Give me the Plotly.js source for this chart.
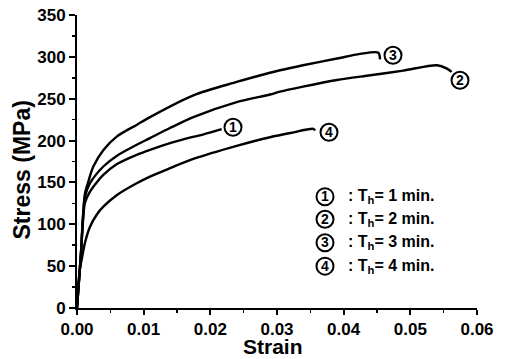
<!DOCTYPE html>
<html>
<head>
<meta charset="utf-8">
<script src="https://cdn.plot.ly/plotly-3.0.1.min.js"></script>
<style>html,body{margin:0;padding:0;background:#fff;}#chart{width:507px;height:359px;}</style>
</head>
<body>
<div id="chart"></div>
<script>
// Curve 1 : Th = 1 min
const strain1 = [0, 0.0003, 0.0006, 0.0009, 0.0012, 0.00195, 0.00295, 0.00395, 0.006, 0.00895, 0.01095, 0.01395, 0.01595, 0.019, 0.0217];
const stress1 = [0, 33, 66, 104, 126, 139, 150, 159, 172, 183, 189, 197, 201.5, 207.5, 213.6];
// Curve 2 : Th = 2 min
const strain2 = [0, 0.0003, 0.0006, 0.0009, 0.0012, 0.00195, 0.00395, 0.006, 0.00895, 0.01095, 0.01395, 0.01745, 0.02395, 0.02895, 0.03045, 0.0339, 0.039, 0.044, 0.04895, 0.054, 0.0555, 0.0562];
const stress2 = [0, 33, 66, 108, 133, 149, 169, 182, 195, 203, 215, 228, 246, 255, 258.5, 264.5, 272.4, 278, 283.6, 290, 286, 282];
// Curve 3 : Th = 3 min
const strain3 = [0, 0.0003, 0.0006, 0.0009, 0.0012, 0.0017, 0.00245, 0.004, 0.006, 0.009, 0.01095, 0.01745, 0.02395, 0.02895, 0.03045, 0.0339, 0.039, 0.04245, 0.0452, 0.04545];
const stress3 = [0, 33, 66, 110, 137, 151, 169, 189, 205, 219, 228, 254, 270, 281, 284, 290, 298, 303.5, 305, 297];
// Curve 4 : Th = 4 min
const strain4 = [0, 0.0002, 0.0004, 0.0007, 0.0012, 0.00195, 0.003, 0.00395, 0.006, 0.00895, 0.01095, 0.01395, 0.01745, 0.02395, 0.02895, 0.032, 0.03545, 0.0357];
const stress4 = [0, 26, 45, 58, 78, 97, 112, 121, 135, 149, 157, 167, 178, 193.7, 204, 209, 214, 212];

const curveNumbers = ['1', '2', '3', '4'];
const legendTexts = [': T<sub>h</sub>= 1 min.', ': T<sub>h</sub>= 2 min.', ': T<sub>h</sub>= 3 min.', ': T<sub>h</sub>= 4 min.'];
const xTicks = [0, 0.01, 0.02, 0.03, 0.04, 0.05, 0.06];
const yTicks = [0, 50, 100, 150, 200, 250, 300, 350];

const series = [[strain1, stress1], [strain2, stress2], [strain3, stress3], [strain4, stress4]];
const traces = series.map(s => ({
  x: s[0], y: s[1], type: 'scatter', mode: 'lines',
  line: {color: '#000', width: 2.4, shape: 'spline', smoothing: 0.8},
  showlegend: false, hoverinfo: 'skip'
}));

const FONT = 'Liberation Sans, Arial, sans-serif';
const DIGITFONT = {family: FONT, size: 14, color: '#000', weight: 'bold'};
const annotations = [];
const shapes = [];
function circledNumber(x, y, label) {
  shapes.push({type: 'circle', xref: 'x', yref: 'y', xsizemode: 'pixel', ysizemode: 'pixel',
    xanchor: x, yanchor: y, x0: -8.5, x1: 8.5, y0: -8.5, y1: 8.5,
    line: {color: '#000', width: 2}, fillcolor: 'rgba(0,0,0,0)'});
  annotations.push({x: x, y: y, xref: 'x', yref: 'y', text: label, showarrow: false,
    font: DIGITFONT, xanchor: 'center', yanchor: 'middle', yshift: 0.5});
}
const labelPos = [[0.0234, 216], [0.05745, 272], [0.0474, 302], [0.0378, 210]];
labelPos.forEach((p, i) => circledNumber(p[0], p[1], curveNumbers[i]));

const legendY = [133, 106, 78, 50];
legendY.forEach((yy, i) => {
  circledNumber(0.0372, yy, curveNumbers[i]);
  annotations.push({x: 0.0403, y: yy, xref: 'x', yref: 'y', text: legendTexts[i], showarrow: false,
    font: {family: FONT, size: 16, color: '#000', weight: 'bold'}, xanchor: 'left', yanchor: 'middle'});
});
// y-axis title
annotations.push({x: -0.137, y: 0.47, xref: 'paper', yref: 'paper', text: 'Stress (MPa)', textangle: -90,
  showarrow: false, xanchor: 'center', yanchor: 'middle',
  font: {family: FONT, size: 23, color: '#000', weight: 'bold'}});
// x-axis title
annotations.push({x: 0.49, y: -0.132, xref: 'paper', yref: 'paper', text: 'Strain',
  showarrow: false, xanchor: 'center', yanchor: 'middle', borderpad: 0,
  font: {family: FONT, size: 21, color: '#000', weight: 'bold'}});

const layout = {
  width: 507, height: 359,
  margin: {l: 77, r: 30, t: 15, b: 51},
  paper_bgcolor: '#fff', plot_bgcolor: '#fff',
  font: {family: FONT, color: '#000'},
  xaxis: {
    range: [0, 0.06], tickvals: xTicks, ticktext: xTicks.map(v => v.toFixed(2)),
    showgrid: false, zeroline: false, showline: true, linecolor: '#000', linewidth: 2,
    ticks: 'outside', ticklen: 5, tickwidth: 2, tickcolor: '#000',
    minor: {dtick: 0.005, tick0: 0, ticks: 'outside', ticklen: 3, tickwidth: 1.5, tickcolor: '#000'},
    tickfont: {family: FONT, size: 17, weight: 'bold', color: '#000'}
  },
  yaxis: {
    range: [0, 350], tickvals: yTicks,
    showgrid: false, zeroline: false, showline: true, linecolor: '#000', linewidth: 2,
    ticks: 'outside', ticklen: 6, tickwidth: 2, tickcolor: '#000',
    minor: {dtick: 25, tick0: 0, ticks: 'outside', ticklen: 3, tickwidth: 1.5, tickcolor: '#000'},
    tickfont: {family: FONT, size: 17, weight: 'bold', color: '#000'}
  },
  shapes: shapes,
  annotations: annotations
};

Plotly.newPlot('chart', traces, layout, {displayModeBar: false, staticPlot: true});
</script>
</body>
</html>
